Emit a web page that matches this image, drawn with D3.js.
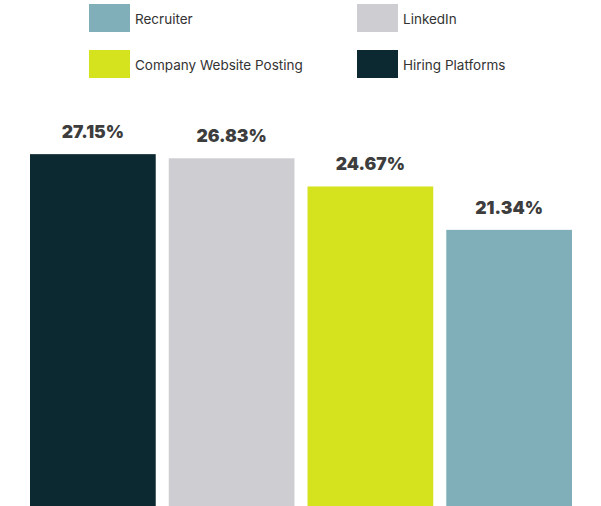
<!DOCTYPE html>
<html>
<head>
<meta charset="utf-8">
<script src="https://cdn.jsdelivr.net/npm/d3@7"></script>
<style>
  html, body { margin: 0; padding: 0; background: #fff; }
  svg { display: block; }
</style>
</head>
<body>
<svg id="chart" width="601" height="506"></svg>
<script>
// Share of hires by source
const categories = ["Hiring Platforms", "LinkedIn", "Company Website Posting", "Recruiter"];
const values = [27.15, 26.83, 24.67, 21.34];
const colors = ["#0c2830", "#cdcdd2", "#d5e21e", "#80afba"];

// Legend layout order (two rows, two columns)
const legendOrder = ["Recruiter", "LinkedIn", "Company Website Posting", "Hiring Platforms"];

const svg = d3.select("#chart");
const colorOf = d3.scaleOrdinal().domain(categories).range(colors);

const x = d3.scaleBand()
  .domain(categories)
  .range([30, 572])
  .paddingInner(0.094)
  .paddingOuter(0);

const y = d3.scaleLinear()
  .domain([0, 30])
  .range([508, 117]);

// Bars
svg.append("g")
  .selectAll("rect")
  .data(categories)
  .join("rect")
  .attr("x", d => x(d))
  .attr("y", (d, i) => y(values[i]))
  .attr("width", x.bandwidth())
  .attr("height", (d, i) => y(0) - y(values[i]))
  .attr("fill", d => colorOf(d));

// Value labels
svg.append("g")
  .selectAll("text")
  .data(categories)
  .join("text")
  .attr("x", d => x(d) + x.bandwidth() / 2)
  .attr("y", (d, i) => y(values[i]) - 16)
  .attr("text-anchor", "middle")
  .attr("font-family", "Inter, 'DejaVu Sans', sans-serif")
  .attr("font-weight", 900)
  .attr("font-size", 17.5)
  .attr("fill", "#3d3d3d")
  .text((d, i) => values[i].toFixed(2) + "%");

// Legend
const legendCol = d3.scalePoint().domain([0, 1]).range([89, 357]);
const legendRow = d3.scalePoint().domain([0, 1]).range([4, 50]);

const item = svg.append("g")
  .selectAll("g")
  .data(legendOrder)
  .join("g")
  .attr("transform", (d, i) => `translate(${legendCol(i % 2)},${legendRow(Math.floor(i / 2))})`);

item.append("rect")
  .attr("width", 41)
  .attr("height", 28)
  .attr("fill", d => colorOf(d));

item.append("text")
  .attr("x", 46)
  .attr("y", 19.5)
  .attr("font-family", "Inter, 'DejaVu Sans', sans-serif")
  .attr("font-size", 13.5)
  .attr("fill", "#333")
  .text(d => d);
</script>
</body>
</html>
